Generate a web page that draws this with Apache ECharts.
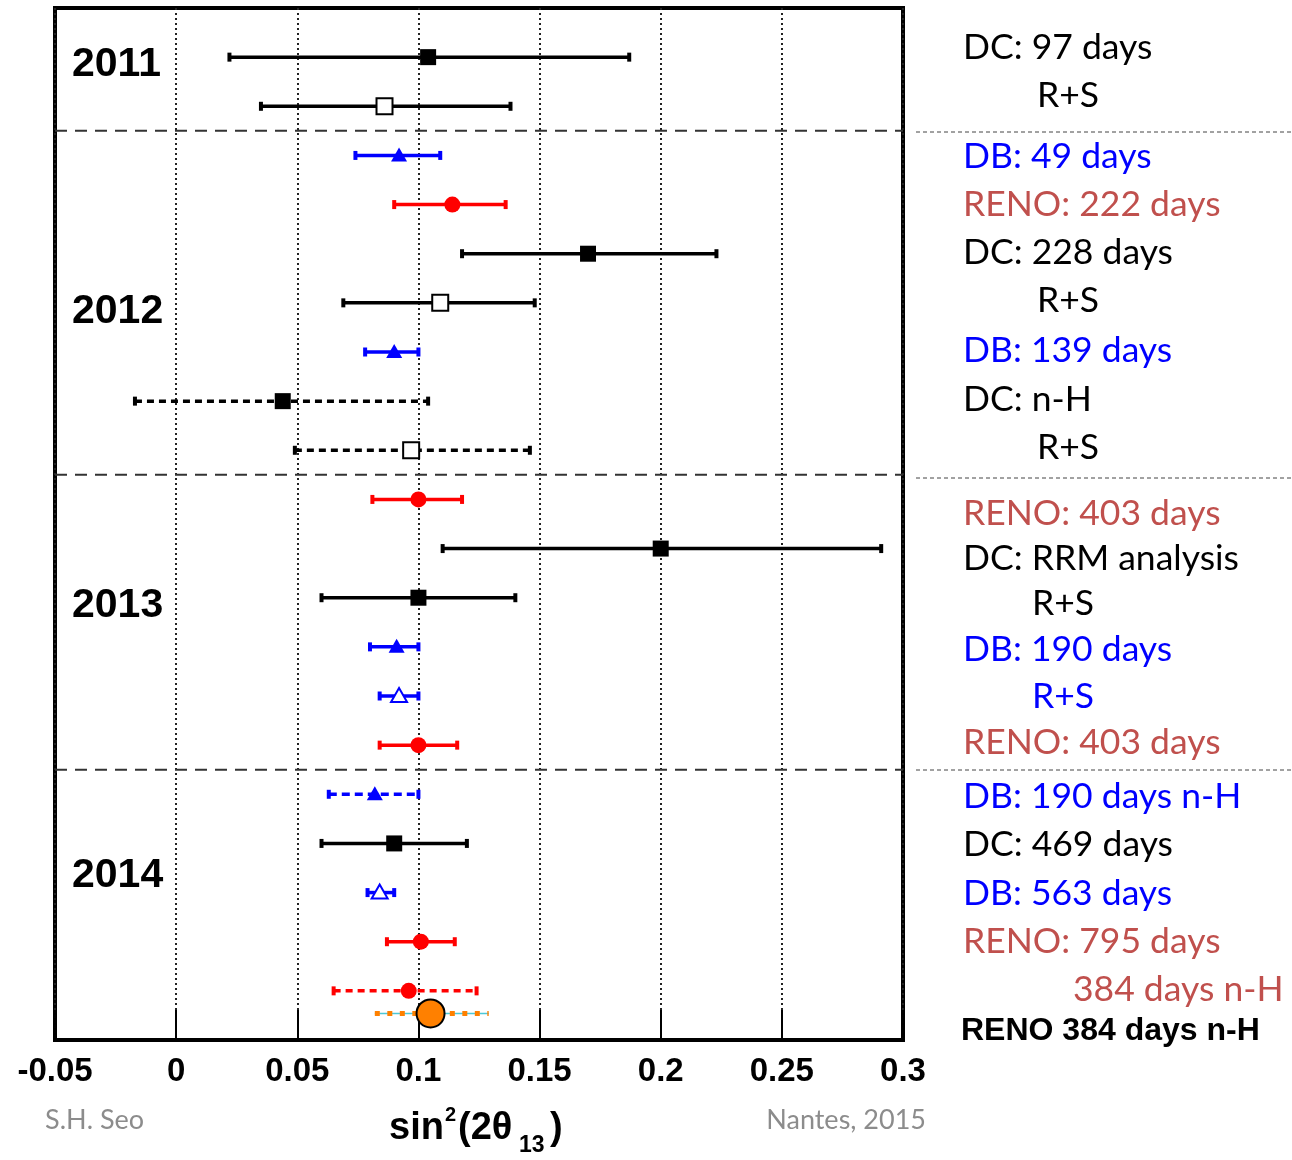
<!DOCTYPE html>
<html>
<head>
<meta charset="utf-8">
<script src="https://cdn.jsdelivr.net/npm/echarts@6/dist/echarts.min.js"></script>
<style>
  html, body { margin: 0; padding: 0; background: #ffffff; }
  #chart { width: 1292px; height: 1160px; }
</style>
</head>
<body>
<div id="chart"></div>
<script>
// sin^2(2θ13) measurements, listed from top to bottom
const measurementNames = [
  'DC: 97 days', 'DC: 97 days R+S',
  'DB: 49 days', 'RENO: 222 days', 'DC: 228 days', 'DC: 228 days R+S', 'DB: 139 days', 'DC: n-H', 'DC: n-H R+S',
  'RENO: 403 days', 'DC: RRM analysis', 'DC: RRM analysis R+S', 'DB: 190 days', 'DB: 190 days R+S', 'RENO: 403 days (R+S)',
  'DB: 190 days n-H', 'DC: 469 days', 'DB: 563 days', 'RENO: 795 days', 'RENO: 384 days n-H', 'RENO 384 days n-H'
];
const rowIndex = [0, 1, 2, 3, 4, 5, 6, 7, 8, 9, 10, 11, 12, 13, 14, 15, 16, 17, 18, 19, 19.46];
const centralValues = [0.104, 0.086, 0.092, 0.114, 0.170, 0.109, 0.090, 0.044, 0.097,
  0.100, 0.200, 0.100, 0.091, 0.092, 0.100, 0.082, 0.090, 0.084, 0.101, 0.096, 0.105];
const lowerEdges = [0.022, 0.035, 0.074, 0.090, 0.118, 0.069, 0.078, -0.017, 0.049,
  0.081, 0.110, 0.060, 0.080, 0.084, 0.084, 0.063, 0.060, 0.079, 0.087, 0.065, 0.082];
const upperEdges = [0.187, 0.138, 0.109, 0.136, 0.223, 0.148, 0.100, 0.104, 0.146,
  0.118, 0.291, 0.140, 0.100, 0.100, 0.116, 0.100, 0.120, 0.090, 0.115, 0.124, 0.129];
const periodBoundaries = [1.5, 8.5, 14.5];
const yearLabels = ['2011', '2012', '2013', '2014'];
const xTickLabels = ['-0.05', '0', '0.05', '0.1', '0.15', '0.2', '0.25', '0.3'];

// experiment labels in the right-hand column
const sideLabels = [
  'DC: 97 days', 'R+S',
  'DB: 49 days', 'RENO: 222 days', 'DC: 228 days', 'R+S', 'DB: 139 days', 'DC: n-H', 'R+S',
  'RENO: 403 days', 'DC: RRM analysis', 'R+S', 'DB: 190 days', 'R+S', 'RENO: 403 days',
  'DB: 190 days n-H', 'DC: 469 days', 'DB: 563 days', 'RENO: 795 days', '384 days n-H', 'RENO 384 days n-H'
];

// ---- styling ----
const BLACK = '#000000', BLUE = '#0000ff', RED = '#ff0000', ORANGE = '#ff8000';
const TXT_BLACK = '#000000', TXT_BLUE = '#0000ff', TXT_RED = '#c0504d';

const MARKS = {
  dcSolid:   { color: BLACK, marker: 'square',   open: false, dash: null },
  dcOpen:    { color: BLACK, marker: 'square',   open: true,  dash: null },
  dcDotted:  { color: BLACK, marker: 'square',   open: false, dash: [7, 5] },
  dcOpenDot: { color: BLACK, marker: 'square',   open: true,  dash: [7, 5] },
  dbSolid:   { color: BLUE,  marker: 'triangle', open: false, dash: null },
  dbOpen:    { color: BLUE,  marker: 'triangle', open: true,  dash: null },
  dbDashed:  { color: BLUE,  marker: 'triangle', open: false, dash: [8, 5] },
  reno:      { color: RED,   marker: 'circle',   open: false, dash: null },
  renoDash:  { color: RED,   marker: 'circle',   open: false, dash: [7, 5] },
  renoNH:    { color: ORANGE, marker: 'bigCircle', open: false, dash: [5, 7.5], under: '#4cc8d8' }
};
const rowMark = ['dcSolid', 'dcOpen',
  'dbSolid', 'reno', 'dcSolid', 'dcOpen', 'dbSolid', 'dcDotted', 'dcOpenDot',
  'reno', 'dcSolid', 'dcSolid', 'dbSolid', 'dbOpen', 'reno',
  'dbDashed', 'dcSolid', 'dbOpen', 'reno', 'renoDash', 'renoNH'];

const sideColors = [TXT_BLACK, TXT_BLACK,
  TXT_BLUE, TXT_RED, TXT_BLACK, TXT_BLACK, TXT_BLUE, TXT_BLACK, TXT_BLACK,
  TXT_RED, TXT_BLACK, TXT_BLACK, TXT_BLUE, TXT_BLUE, TXT_RED,
  TXT_BLUE, TXT_BLACK, TXT_BLUE, TXT_RED, TXT_RED, TXT_BLACK];
// layout of the right-hand column: [left x, vertical centre]
const sideLayout = [[963, 48], [1037, 96],
  [963, 157], [963, 205], [963, 253], [1037, 301], [963, 351], [963, 400], [1037, 448],
  [963, 514], [963, 559], [1032, 604], [963, 650], [1032, 697], [963, 743],
  [963, 797], [963, 845], [963, 894], [963, 942], [1073, 990], [961, 1031]];
const sideSeparatorY = [132, 478, 770];
const yearLayout = [[72, 65], [72, 312], [72, 606], [72, 876]];

const seriesData = centralValues.map((v, i) => [v, lowerEdges[i], upperEdges[i], rowIndex[i]]);

function renderMeasurement(params, api) {
  const m = MARKS[rowMark[params.dataIndex]];
  const y = api.coord([0, api.value(3)])[1];
  const xc = api.coord([api.value(0), 0])[0];
  const xl = api.coord([api.value(1), 0])[0];
  const xh = api.coord([api.value(2), 0])[0];
  const children = [];
  if (m.under) {
    children.push({ type: 'line', shape: { x1: xl, y1: y, x2: xh, y2: y },
      style: { stroke: m.under, lineWidth: 1.5 } });
  }
  children.push({ type: 'line', shape: { x1: xl, y1: y, x2: xh, y2: y },
    style: { stroke: m.color, lineWidth: m.under ? 5 : 3.5, lineDash: m.dash, lineCap: 'butt' } });
  if (!m.under) {
    [xl, xh].forEach(x => children.push({ type: 'rect',
      shape: { x: x - 2, y: y - 4.5, width: 4, height: 9 }, style: { fill: m.color } }));
  }
  if (m.marker === 'square') {
    children.push({ type: 'rect', shape: { x: xc - 8, y: y - 8, width: 16, height: 16 },
      style: m.open ? { fill: '#ffffff', stroke: m.color, lineWidth: 2 } : { fill: m.color } });
  } else if (m.marker === 'triangle') {
    children.push({ type: 'polygon',
      shape: { points: [[xc, y - 8], [xc - 8, y + 6], [xc + 8, y + 6]] },
      style: m.open ? { fill: '#ffffff', stroke: m.color, lineWidth: 2 } : { fill: m.color } });
  } else if (m.marker === 'circle') {
    children.push({ type: 'circle', shape: { cx: xc, cy: y, r: 8 }, style: { fill: m.color } });
  } else if (m.marker === 'bigCircle') {
    children.push({ type: 'circle', shape: { cx: xc, cy: y, r: 14 },
      style: { fill: m.color, stroke: '#000000', lineWidth: 2 } });
  }
  return { type: 'group', children };
}

function renderBoundary(params, api) {
  const cs = params.coordSys;
  const y = api.coord([0, api.value(0)])[1];
  return { type: 'line', shape: { x1: cs.x, y1: y, x2: cs.x + cs.width, y2: y },
    style: { stroke: '#333333', lineWidth: 2, lineDash: [12, 8] } };
}

const ARIAL = 'Liberation Sans, Arial, sans-serif';
const CALIBRI_LIKE = 'Lato, Open Sans, sans-serif';

const graphics = [];
yearLabels.forEach((t, i) => graphics.push({
  type: 'text', x: yearLayout[i][0], y: yearLayout[i][1], z: 10,
  style: { text: t, fill: '#000', fontSize: 41, fontWeight: 'bold',
    fontFamily: ARIAL, verticalAlign: 'middle' }
}));
sideLabels.forEach((t, i) => {
  const bold = i === sideLabels.length - 1;
  graphics.push({
    type: 'text', x: sideLayout[i][0], y: sideLayout[i][1],
    style: { text: t, fill: sideColors[i],
      fontSize: bold ? 32 : 35.5, fontWeight: bold ? 'bold' : 'normal',
      fontFamily: bold ? ARIAL : CALIBRI_LIKE, verticalAlign: 'middle' }
  });
});
sideSeparatorY.forEach(y => graphics.push({
  type: 'line', shape: { x1: 916, y1: y, x2: 1292, y2: y },
  style: { stroke: '#444', lineWidth: 1, lineDash: [4, 3] }
}));

// footer
graphics.push(
  { type: 'text', x: 45, y: 1120, style: { text: 'S.H. Seo', fill: '#8c8c8c', fontSize: 27,
      fontFamily: CALIBRI_LIKE, verticalAlign: 'middle' } },
  { type: 'text', x: 926, y: 1120, style: { text: 'Nantes, 2015', fill: '#8c8c8c', fontSize: 27,
      fontFamily: CALIBRI_LIKE, verticalAlign: 'middle', align: 'right' } }
);
// x-axis title: sin²(2θ₁₃), pieces placed side by side
const titleParts = [
  { text: 'sin', size: 38, x: 389, y: 1129 },
  { text: '2', size: 20, x: 445, y: 1115 },
  { text: '(2θ', size: 38, x: 458, y: 1129 },
  { text: '13', size: 23, x: 519, y: 1146 },
  { text: ')', size: 38, x: 550, y: 1129 }
];
titleParts.forEach(p => graphics.push({
  type: 'text', x: p.x, y: p.y,
  style: { text: p.text, fill: '#000', fontSize: p.size, fontWeight: 'bold', fontFamily: ARIAL, verticalAlign: 'middle' }
}));

const chart = echarts.init(document.getElementById('chart'), null, { renderer: 'canvas' });
chart.setOption({
  animation: false,
  backgroundColor: '#ffffff',
  grid: { left: 55, right: 389, top: 8, bottom: 120, show: true,
    borderColor: '#000', borderWidth: 4, backgroundColor: 'transparent' },
  xAxis: {
    type: 'value', min: -0.05, max: 0.3, interval: 0.05,
    axisLine: { show: true, onZero: false, lineStyle: { color: '#000', width: 4 } },
    axisTick: { show: true, inside: true, length: 30, lineStyle: { color: '#000', width: 2 } },
    splitLine: { show: true, lineStyle: { color: '#222', width: 2, type: [2, 3] } },
    axisLabel: {
      margin: 15, color: '#000', fontSize: 33, fontWeight: 'bold', fontFamily: ARIAL,
      formatter: (v) => xTickLabels[Math.round((v + 0.05) / 0.05)] || ''
    }
  },
  yAxis: { type: 'value', min: -1, max: 20, inverse: true, show: false },
  series: [
    { type: 'custom', name: 'periods', renderItem: renderBoundary, data: periodBoundaries.map(v => [v]),
      encode: { y: 0 }, silent: true, z: 2 },
    { type: 'custom', name: 'sin2 2theta13', renderItem: renderMeasurement, data: seriesData,
      encode: { x: [0, 1, 2], y: 3 }, clip: false, z: 3 }
  ],
  graphic: graphics
});
</script>
</body>
</html>
